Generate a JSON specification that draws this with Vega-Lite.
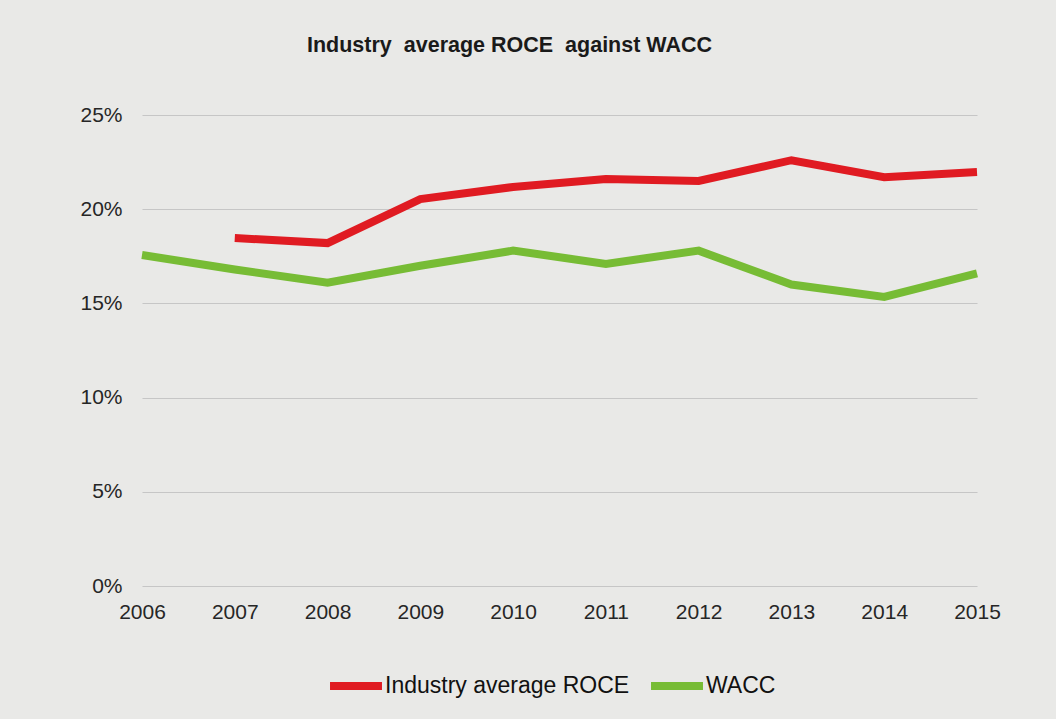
{
  "$schema": "https://vega.github.io/schema/vega-lite/v6.json",
  "autosize": {"type": "none"},
  "width": 835,
  "height": 471,
  "padding": {"left": 142, "top": 115, "right": 79, "bottom": 133},
  "background": "#e9e9e7",
  "title": {
    "text": "Industry\u00a0 average ROCE\u00a0 against WACC",
    "fontSize": 21.5,
    "fontWeight": "bold",
    "font": "Liberation Sans",
    "color": "#1a1a1a",
    "anchor": "middle",
    "dx": -50,
    "offset": 48
  },
  "config": {
    "view": {"stroke": null},
    "font": "Liberation Sans"
  },
  "data": {
    "values": [
      {"year": 2007, "series": "Industry average ROCE", "value": 0.1847},
      {"year": 2008, "series": "Industry average ROCE", "value": 0.182},
      {"year": 2009, "series": "Industry average ROCE", "value": 0.2054},
      {"year": 2010, "series": "Industry average ROCE", "value": 0.2118},
      {"year": 2011, "series": "Industry average ROCE", "value": 0.216},
      {"year": 2012, "series": "Industry average ROCE", "value": 0.215},
      {"year": 2013, "series": "Industry average ROCE", "value": 0.226},
      {"year": 2014, "series": "Industry average ROCE", "value": 0.217},
      {"year": 2015, "series": "Industry average ROCE", "value": 0.2197},
      {"year": 2006, "series": "WACC", "value": 0.1757},
      {"year": 2007, "series": "WACC", "value": 0.168},
      {"year": 2008, "series": "WACC", "value": 0.161},
      {"year": 2009, "series": "WACC", "value": 0.170},
      {"year": 2010, "series": "WACC", "value": 0.178},
      {"year": 2011, "series": "WACC", "value": 0.171},
      {"year": 2012, "series": "WACC", "value": 0.178},
      {"year": 2013, "series": "WACC", "value": 0.160},
      {"year": 2014, "series": "WACC", "value": 0.1534},
      {"year": 2015, "series": "WACC", "value": 0.166}
    ]
  },
  "mark": {"type": "line", "strokeWidth": 8, "strokeJoin": "miter", "strokeCap": "butt"},
  "encoding": {
    "x": {
      "field": "year",
      "type": "quantitative",
      "scale": {"domain": [2006, 2015], "nice": false, "zero": false},
      "axis": {
        "title": null,
        "values": [2006, 2007, 2008, 2009, 2010, 2011, 2012, 2013, 2014, 2015],
        "format": "d",
        "grid": false,
        "domain": false,
        "ticks": false,
        "labelPadding": 15,
        "labelFontSize": 21,
        "labelColor": "#262626",
        "labelFlush": false
      }
    },
    "y": {
      "field": "value",
      "type": "quantitative",
      "scale": {"domain": [0, 0.25], "nice": false},
      "axis": {
        "title": null,
        "values": [0, 0.05, 0.1, 0.15, 0.2, 0.25],
        "format": ".0%",
        "domain": false,
        "ticks": false,
        "grid": true,
        "gridColor": "#c6c6c6",
        "gridWidth": 1.2,
        "labelPadding": 20,
        "labelFontSize": 21,
        "labelColor": "#262626"
      }
    },
    "color": {
      "field": "series",
      "type": "nominal",
      "scale": {
        "domain": ["Industry average ROCE", "WACC"],
        "range": ["#e01b22", "#77bc35"]
      },
      "legend": {
        "title": null,
        "orient": "none",
        "legendX": 184,
        "legendY": 541,
        "direction": "horizontal",
        "symbolType": "stroke",
        "symbolStrokeWidth": 8,
        "symbolSize": 2700,
        "labelFontSize": 23,
        "labelLimit": 0,
        "labelColor": "#111111",
        "labelOffset": -1,
        "columnPadding": 5
      }
    }
  }
}
